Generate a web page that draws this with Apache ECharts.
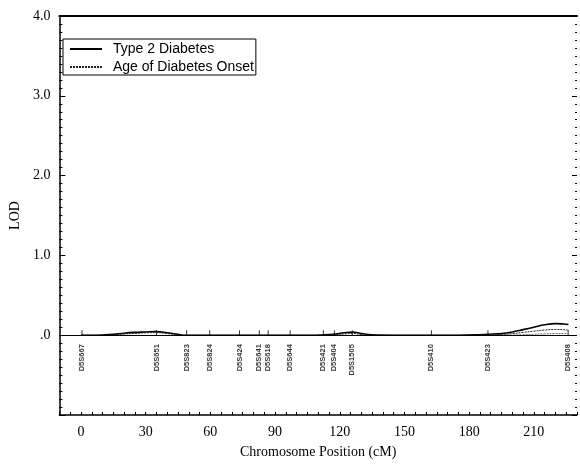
<!DOCTYPE html>
<html>
<head>
<meta charset="utf-8">
<script src="https://cdn.jsdelivr.net/npm/echarts@6/dist/echarts.min.js"></script>
<style>
  html, body { margin: 0; padding: 0; background: #fff; }
  #chart { width: 580px; height: 464px; }
</style>
</head>
<body>
<div id="chart"></div>
<script>
// Multipoint LOD scores along chromosome 5
const positions = [0, 5, 10, 15, 20, 25, 30, 35, 40, 45, 49, 55, 60, 73, 83, 87, 97, 105, 112, 117, 122, 126, 130, 135, 145, 155, 163, 175, 183, 189, 195, 200, 205, 210, 215, 220, 224, 226];
const type2Lod    = [0, 0, 0.003, 0.01, 0.025, 0.035, 0.04, 0.045, 0.03, 0.01, 0, 0, 0, 0, 0, 0, 0, 0, 0.003, 0.01, 0.03, 0.04, 0.02, 0.005, 0, 0, 0, 0, 0.004, 0.012, 0.02, 0.04, 0.07, 0.1, 0.13, 0.145, 0.14, 0.135];
const onsetLod    = [0, 0, 0, 0.005, 0.015, 0.022, 0.03, 0.032, 0.02, 0.005, 0, 0, 0, 0, 0, 0, 0, 0, 0, 0.005, 0.015, 0.022, 0.01, 0, 0, 0, 0, 0, 0, 0.005, 0.01, 0.02, 0.035, 0.05, 0.065, 0.072, 0.068, 0.062];

// Second onset trace, distal end only
const onsetDistalPos = [195, 200, 205, 210, 215, 220, 224, 226];
const onsetDistalLod = [0, 0.002, 0.006, 0.012, 0.017, 0.02, 0.02, 0.019];

// Marker map
const markerNames = ['D5S667', 'D5S651', 'D5S823', 'D5S824', 'D5S424', 'D5S641', 'D5S618', 'D5S644', 'D5S421', 'D5S404', 'D5S1505', 'D5S410', 'D5S423', 'D5S408'];
const markerPos   = [0.5, 35, 49, 59.7, 73.5, 82.7, 86.8, 97, 112.4, 117.5, 125.8, 162.5, 188.7, 225.9];

const xTickLabels = [0, 30, 60, 90, 120, 150, 180, 210];
const yTickLabels = [0, 1, 2, 3, 4];

const serif = '"Liberation Serif", "DejaVu Serif", serif';
const sans = '"Liberation Sans", Arial, sans-serif';

const chart = echarts.init(document.getElementById('chart'), null, { renderer: 'canvas' });

function yLabel(v) {
  const r = Math.round(v);
  if (Math.abs(v - r) > 1e-6 || yTickLabels.indexOf(r) < 0) return '';
  return r === 0 ? '.0' : r.toFixed(1);
}
function xLabel(v) {
  const r = Math.round(v);
  return xTickLabels.indexOf(r) >= 0 && Math.abs(v - r) < 1e-6 ? String(r) : '';
}

const option = {
  animation: false,
  backgroundColor: '#fff',
  grid: { left: 54, right: 3, top: 16, bottom: 42, containLabel: false },
  legend: {
    left: 63, top: 39,
    orient: 'vertical',
    data: ['Type 2 Diabetes', 'Age of Diabetes Onset'],
    borderColor: '#000', borderWidth: 1, borderRadius: 0,
    padding: [3, 2, 1, 6],
    itemGap: 4, itemWidth: 32, itemHeight: 14,
    itemStyle: { opacity: 0 },
    textStyle: { fontFamily: sans, fontSize: 14, color: '#000', padding: [0, 0, 0, 6] }
  },
  xAxis: [
    {
      type: 'value', min: -10, max: 230, interval: 5,
      name: 'Chromosome Position (cM)', nameLocation: 'middle', nameGap: 30,
      nameTextStyle: { fontFamily: serif, fontSize: 14, color: '#000' },
      axisLine: { show: true, onZero: false, lineStyle: { color: '#000', width: 1.5 } },
      axisTick: { show: true, inside: true, length: 3, lineStyle: { color: '#000' } },
      axisLabel: { formatter: xLabel, fontFamily: serif, fontSize: 14, color: '#000', margin: 10 },
      splitLine: { show: false }
    },
    {
      type: 'value', position: 'top', min: -10, max: 230,
      axisLine: { show: true, onZero: false, lineStyle: { color: '#000', width: 2 } },
      axisTick: { show: false }, axisLabel: { show: false }, splitLine: { show: false }
    }
  ],
  yAxis: [
    {
      type: 'value', min: -1, max: 4, interval: 1,
      name: 'LOD', nameLocation: 'middle', nameGap: 35, nameRotate: 90,
      nameTextStyle: { fontFamily: serif, fontSize: 14, color: '#000' },
      axisLine: { show: true, onZero: false, lineStyle: { color: '#000', width: 1.5 } },
      axisTick: { show: true, inside: true, length: 6, lineStyle: { color: '#000' } },
      minorTick: { show: true, splitNumber: 10, length: 3, lineStyle: { color: '#000' } },
      axisLabel: { formatter: yLabel, fontFamily: serif, fontSize: 14, color: '#000', margin: 9 },
      splitLine: { show: false }
    },
    {
      type: 'value', position: 'right', min: -1, max: 4, interval: 1,
      axisLine: { show: false, onZero: false },
      axisTick: { show: true, inside: true, length: 5, lineStyle: { color: '#000' } },
      minorTick: { show: true, splitNumber: 10, length: 2, lineStyle: { color: '#000' } },
      axisLabel: { show: false }, splitLine: { show: false }
    }
  ],
  series: [
    {
      name: 'Type 2 Diabetes', type: 'line', smooth: 0.4, symbol: 'none',
      data: positions.map((p, i) => [p, type2Lod[i]]),
      itemStyle: { color: '#000' },
      lineStyle: { color: '#000', width: 1.6 },
      markLine: {
        silent: true, symbol: 'none', label: { show: false },
        lineStyle: { color: '#000', width: 1, type: 'solid' },
        data: [{ yAxis: 0 }]
      }
    },
    {
      name: 'Age of Diabetes Onset', type: 'line', smooth: 0.4, symbol: 'none',
      data: positions.map((p, i) => [p, onsetLod[i]]),
      itemStyle: { color: '#222' },
      lineStyle: { color: '#222', width: 1, type: [2, 1] }
    },
    {
      name: 'Age of Diabetes Onset', type: 'line', smooth: 0.4, symbol: 'none',
      data: onsetDistalPos.map((p, i) => [p, onsetDistalLod[i]]),
      itemStyle: { color: '#444' },
      lineStyle: { color: '#444', width: 0.8, type: [2, 1] }
    },
    {
      name: 'Markers', type: 'scatter',
      data: markerPos.map((p, i) => ({ value: [p, 0], name: markerNames[i] })),
      symbol: 'rect', symbolSize: [1, 5], symbolOffset: [0, -2.5],
      itemStyle: { color: '#000' },
      label: {
        show: true, position: 'bottom', distance: 9,
        rotate: 90, align: 'right', verticalAlign: 'middle',
        formatter: p => p.name,
        fontFamily: sans, fontSize: 7.5, fontWeight: 'bold', color: '#000'
      }
    }
  ]
};

chart.setOption(option);
</script>
</body>
</html>
